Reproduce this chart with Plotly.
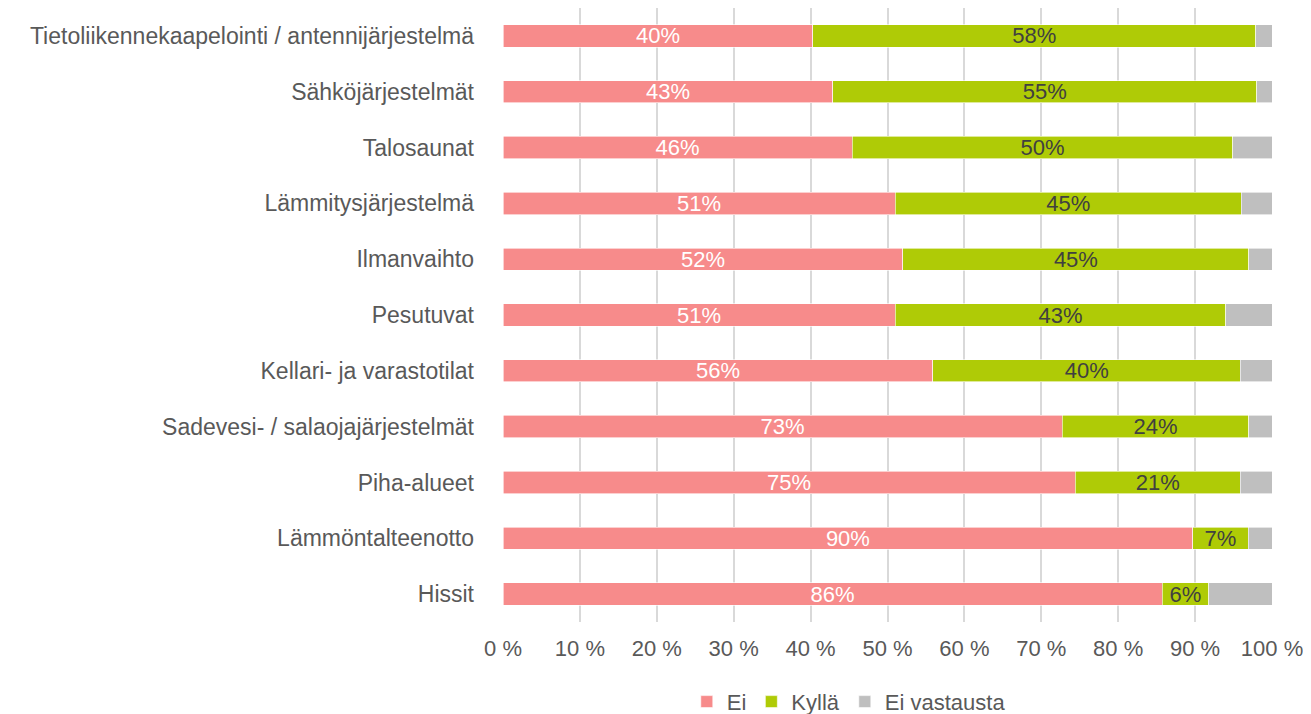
import plotly.graph_objects as go

# survey categories, top to bottom as shown
categories = [
    "Tietoliikennekaapelointi / antennijärjestelmä",
    "Sähköjärjestelmät",
    "Talosaunat",
    "Lämmitysjärjestelmä",
    "Ilmanvaihto",
    "Pesutuvat",
    "Kellari- ja varastotilat",
    "Sadevesi- / salaojajärjestelmät",
    "Piha-alueet",
    "Lämmöntalteenotto",
    "Hissit",
]
# shares (%)
ei = [40.3, 42.9, 45.4, 51.0, 52.0, 51.0, 55.9, 72.7, 74.4, 89.7, 85.7]
kylla = [57.6, 55.1, 49.5, 45.0, 45.0, 43.0, 40.0, 24.3, 21.5, 7.2, 6.1]
ei_vastausta = [2.1, 2.0, 5.1, 4.0, 3.0, 6.0, 4.1, 3.0, 4.1, 3.1, 8.2]
# printed data labels
ei_labels = ["40%", "43%", "46%", "51%", "52%", "51%", "56%", "73%", "75%", "90%", "86%"]
kylla_labels = ["58%", "55%", "50%", "45%", "45%", "43%", "40%", "24%", "21%", "7%", "6%"]

x_ticks = [0, 10, 20, 30, 40, 50, 60, 70, 80, 90, 100]
x_ticktext = [f"{v} %" for v in x_ticks]

font = "Liberation Sans, Arial, sans-serif"
grey_txt = "#595959"
fs = 22

fig = go.Figure()
fig.add_bar(
    y=categories, x=ei, name="Ei", orientation="h",
    marker=dict(color="#F78B8B", line=dict(color="white", width=0.6)),
    text=ei_labels, texttemplate="%{text}",
    textposition="inside", insidetextanchor="middle", constraintext="none",
    textfont=dict(color="white", size=fs, family=font),
)
fig.add_bar(
    y=categories, x=kylla, name="Kyllä", orientation="h",
    marker=dict(color="#AFCB06", line=dict(color="white", width=0.6)),
    text=kylla_labels, texttemplate="%{text}",
    textposition="inside", insidetextanchor="middle", constraintext="none",
    textfont=dict(color="#404040", size=fs, family=font),
)
fig.add_bar(
    y=categories, x=ei_vastausta, name="Ei vastausta", orientation="h",
    marker=dict(color="#BFBFBF", line=dict(color="white", width=0.6)),
    hoverinfo="x+name",
)

fig.update_layout(
    barmode="stack",
    bargap=0.6,
    width=1311, height=714,
    margin=dict(l=495, r=47, t=0, b=100, autoexpand=False),
    plot_bgcolor="white", paper_bgcolor="white",
    font=dict(family=font, size=fs, color=grey_txt),
    legend=dict(
        orientation="h", x=0.239, xanchor="left", y=-0.13, yanchor="middle",
        font=dict(size=fs, color=grey_txt), itemwidth=30, traceorder="normal",
    ),
)
fig.update_xaxes(
    range=[0, 100], tickvals=x_ticks, ticktext=x_ticktext,
    showgrid=True, gridcolor="#D9D9D9", gridwidth=1.5,
    zeroline=False, showline=False,
    ticks="", ticklabelstandoff=11,
    tickfont=dict(size=fs, color=grey_txt),
)
fig.update_yaxes(
    autorange="reversed", showgrid=False,
    ticks="", ticklabelstandoff=28,
    tickfont=dict(size=23, color=grey_txt),
)

fig.write_html("out.html")
